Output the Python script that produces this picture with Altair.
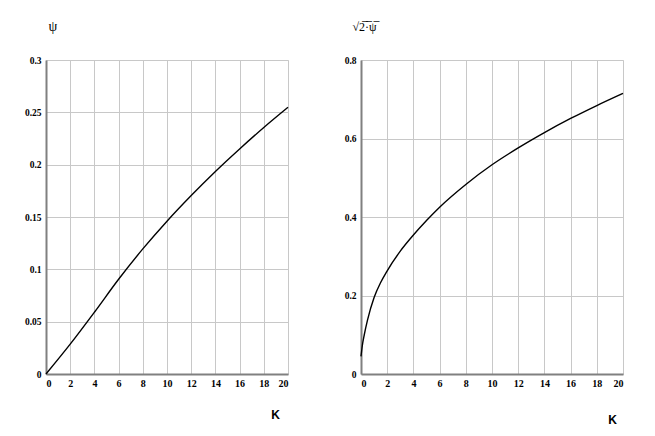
import altair as alt
import pandas as pd

# Left panel: psi vs K
k_left = [0, 2, 4, 6, 8, 10, 12, 14, 16, 18, 20]
psi = [0, 0.0285, 0.059, 0.0905, 0.1195, 0.146, 0.1705, 0.1935, 0.215, 0.2355, 0.2548]

# Right panel: sqrt(2 psi) vs K
k_right = [0, 0.1, 0.25, 0.5, 1, 1.5, 2, 3, 4, 5, 6, 8, 10, 12, 14, 16, 18, 20]
sqrt2psi = [0.045, 0.072, 0.1, 0.138, 0.195, 0.233, 0.263, 0.313, 0.354, 0.391, 0.425,
            0.483, 0.533, 0.576, 0.615, 0.651, 0.684, 0.715]

x_ticks = list(range(0, 21, 2))
y_ticks_left = [0, 0.05, 0.1, 0.15, 0.2, 0.25, 0.3]
y_ticks_right = [0, 0.2, 0.4, 0.6, 0.8]

df_left = pd.DataFrame({"K": k_left, "v": psi})
df_right = pd.DataFrame({"K": k_right, "v": sqrt2psi})

label_font = "Liberation Serif"
grid_color = "#c8c8c8"
domain_color = "#808080"


def panel(df, yticks, ymax, w, ytitle, ytitle_x, ytitle_size, ktitle_x, ktitle_y):
    return alt.Chart(df).mark_line(color="black", strokeWidth=1.4, interpolate="monotone").encode(
        x=alt.X("K:Q", scale=alt.Scale(domain=[0, 20], nice=False),
                axis=alt.Axis(values=x_ticks, format="d", title="K", grid=True,
                              gridColor=grid_color, gridWidth=1, ticks=False,
                              labelPadding=4, labelFont=label_font, labelFontWeight="bold",
                              labelFontSize=10, labelColor="black",
                              domainColor=domain_color, domainWidth=2,
                              titleFont="Liberation Sans", titleFontWeight="bold", titleFontSize=12,
                              titleColor="black", titleX=ktitle_x, titleY=ktitle_y,
                              titleAlign="center", titleBaseline="alphabetic")),
        y=alt.Y("v:Q", scale=alt.Scale(domain=[0, ymax], nice=False),
                axis=alt.Axis(values=yticks, format="~g", title=ytitle, grid=True,
                              gridColor=grid_color, gridWidth=1, ticks=False,
                              labelPadding=5, labelFont=label_font, labelFontWeight="bold",
                              labelFontSize=9.5, labelColor="black",
                              domainColor=domain_color, domainWidth=2,
                              titleFont=label_font, titleFontSize=ytitle_size, titleFontWeight="normal",
                              titleColor="black", titleAngle=0, titleX=ytitle_x, titleY=-30,
                              titleAlign="left", titleBaseline="alphabetic")),
    ).properties(width=w, height=314)


left = panel(df_left, y_ticks_left, 0.3, 242, "ψ", 2, 14, 229, 44)
right = panel(df_right, y_ticks_right, 0.8, 262, "√2̅·̅ψ̅", -9, 12, 251, 49)

chart = alt.hconcat(left, right, spacing=73, bounds="flush").properties(
    padding={"left": 15, "top": 10, "right": 5, "bottom": 5}
).configure_view(stroke="black", strokeWidth=1.5).configure(background="white")

chart.save("out.html", embed_options={"renderer": "svg", "actions": False})
